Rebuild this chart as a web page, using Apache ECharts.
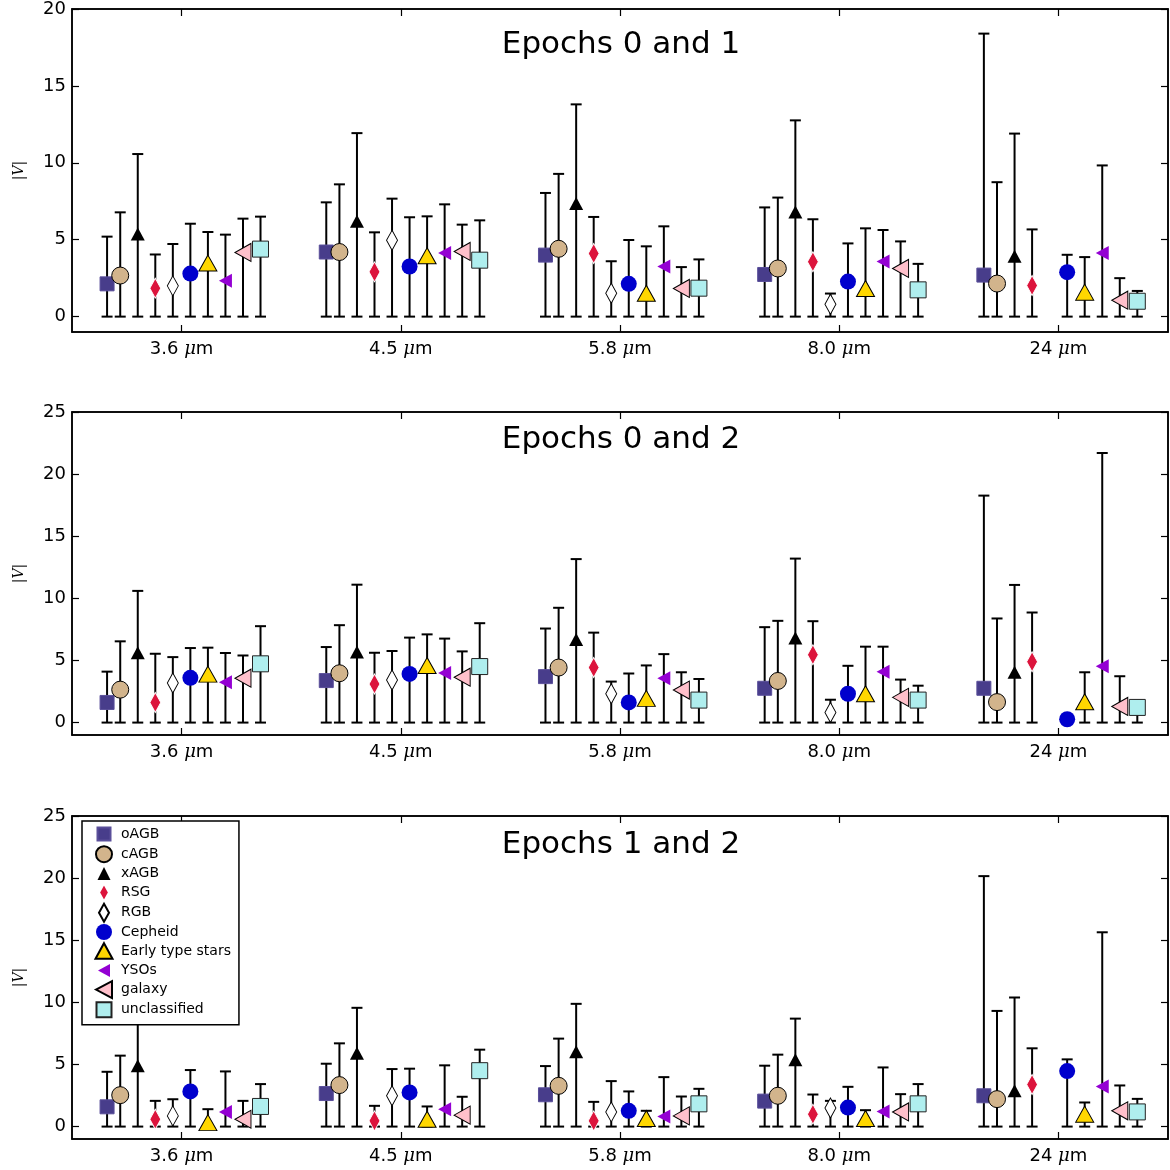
<!DOCTYPE html>
<html>
<head>
    <meta charset="utf-8">
    <script src="https://cdn.jsdelivr.net/npm/echarts@6/dist/echarts.min.js"></script>
</head>
<body style="margin:0;background:#fff;">
    <div id="main" style="width:1170px;height:1170px;"></div>
    <script type="text/javascript">
        // bands and classes
        var bands = ['3.6', '4.5', '5.8', '8.0', '24'];
        var classes = ['oAGB', 'cAGB', 'xAGB', 'RSG', 'RGB', 'Cepheid', 'Early type stars', 'YSOs', 'galaxy', 'unclassified'];
        var offsets = [-0.34, -0.28, -0.2, -0.12, -0.04, 0.04, 0.12, 0.2, 0.28, 0.36];
        var panelTitles = ['Epochs 0 and 1', 'Epochs 0 and 2', 'Epochs 1 and 2'];
        var yMax = [20, 25, 25];
        var yTicks = [[0, 5, 10, 15, 20], [0, 5, 10, 15, 20, 25], [0, 5, 10, 15, 20, 25]];

        // epochs 0 and 1: marker value and upper end of the bar, one row per class
        var e01Val = [
            [2.13, 4.2, 4.0, 2.74, 2.7],
            [2.67, 4.2, 4.41, 3.13, 2.15],
            [5.37, 6.2, 7.35, 6.8, 3.93],
            [1.85, 2.91, 4.1, 3.57, 2.02],
            [2.0, 4.96, 1.52, 0.8, null],
            [2.8, 3.26, 2.13, 2.28, 2.89],
            [3.48, 3.96, 1.52, 1.83, 1.59],
            [2.33, 4.13, 3.26, 3.59, 4.13],
            [4.17, 4.24, 1.83, 3.13, 1.07],
            [4.39, 3.67, 1.85, 1.74, 1.0]
        ];
        var e01Top = [
            [5.2, 7.43, 8.04, 7.1, 18.4],
            [6.78, 8.6, 9.28, 7.74, 8.74],
            [10.57, 11.93, 13.8, 12.76, 11.9],
            [4.04, 5.48, 6.48, 6.33, 5.67],
            [4.72, 7.67, 3.6, 1.5, null],
            [6.04, 6.46, 4.98, 4.76, 4.02],
            [5.5, 6.52, 4.57, 5.74, 3.87],
            [5.33, 7.3, 5.87, 5.63, 9.83],
            [6.37, 5.98, 3.22, 4.89, 2.5],
            [6.5, 6.26, 3.72, 3.43, 1.67]
        ];

        // epochs 0 and 2
        var e02Val = [
            [1.62, 3.38, 3.7, 2.76, 2.76],
            [2.65, 3.97, 4.43, 3.35, 1.65],
            [5.62, 5.68, 6.68, 6.81, 4.05],
            [1.62, 3.1, 4.43, 5.46, 4.89],
            [3.19, 3.43, 2.32, 0.81, null],
            [3.6, 3.92, 1.62, 2.32, 0.27],
            [3.9, 4.6, 1.95, 2.32, 1.68],
            [3.24, 4.0, 3.57, 4.1, 4.54],
            [3.57, 3.65, 2.62, 2.03, 1.3],
            [4.73, 4.51, 1.81, 1.81, 1.22]
        ];
        var e02Top = [
            [4.1, 6.08, 7.57, 7.68, 18.27],
            [6.54, 7.84, 9.24, 8.19, 8.38],
            [10.6, 11.1, 13.16, 13.2, 11.08],
            [5.54, 5.62, 7.24, 8.16, 8.86],
            [5.27, 5.76, 3.3, 1.84, null],
            [6.0, 6.84, 3.95, 4.57, 0.35],
            [6.03, 7.1, 4.6, 6.11, 4.05],
            [5.6, 6.76, 5.51, 6.11, 21.7],
            [5.4, 5.73, 4.05, 3.46, 3.73],
            [7.76, 8.0, 3.51, 2.97, 1.76]
        ];

        // epochs 1 and 2
        var e12Val = [
            [1.59, 2.66, 2.56, 2.05, 2.48],
            [2.53, 3.34, 3.28, 2.48, 2.21],
            [4.9, 5.9, 6.03, 5.38, 2.88],
            [0.59, 0.46, 0.46, 1.0, 3.39],
            [0.86, 2.48, 1.18, 1.5, null],
            [2.83, 2.75, 1.27, 1.53, 4.47],
            [0.32, 0.59, 0.65, 0.65, 1.0],
            [1.18, 1.4, 0.81, 1.21, 3.23],
            [0.59, 0.92, 0.86, 1.18, 1.27],
            [1.62, 4.5, 1.83, 1.83, 1.18]
        ];
        var e12Top = [
            [4.41, 5.06, 4.87, 4.9, 20.16],
            [5.71, 6.7, 7.08, 5.79, 9.31],
            [8.29, 9.56, 9.88, 8.69, 10.39],
            [2.07, 1.67, 1.99, 2.58, 6.3],
            [2.2, 4.63, 3.66, 2.07, null],
            [4.55, 4.66, 2.83, 3.2, 5.41],
            [1.4, 1.62, 1.27, 1.32, 1.94],
            [4.44, 4.93, 3.98, 4.76, 15.64],
            [2.07, 2.4, 2.42, 2.61, 3.31],
            [3.42, 6.19, 3.04, 3.42, 2.23]
        ];

        var panelVal = [e01Val, e02Val, e12Val];
        var panelTop = [e01Top, e02Top, e12Top];

        var leftTri = 'path://M0,10 L18,0 L18,20 Z';
        var diamond = 'path://M5,0 L10,10 L5,20 L0,10 Z';
        var markerStyle = [
            { symbol: 'rect', size: 14, color: '#483D8B', border: '#5a4f9a', bw: 1 },
            { symbol: 'circle', size: 17, color: '#D2B48C', border: '#000', bw: 1 },
            { symbol: 'triangle', size: [14, 13], color: '#000', border: '#000', bw: 0 },
            { symbol: diamond, size: [11, 20], color: '#DC143C', border: '#fff', bw: 1 },
            { symbol: diamond, size: [11, 20], color: '#fff', border: '#000', bw: 1 },
            { symbol: 'circle', size: 16, color: '#0000CD', border: '#0000CD', bw: 0 },
            { symbol: 'triangle', size: [18, 16], color: '#FFD700', border: '#000', bw: 1 },
            { symbol: leftTri, size: [13, 14], color: '#9400D3', border: '#9400D3', bw: 0 },
            { symbol: leftTri, size: [16, 18], color: '#FFC0CB', border: '#000', bw: 1 },
            { symbol: 'rect', size: 16, color: '#AFEEEE', border: '#222', bw: 1 }
        ];
        // legend icons drawn in an 18x18 box (the leading moves fix the box)
        var box = 'path://M0,0 M18,18 ';
        var legendIcons = [
            box + 'M2.5,2.5 L15.5,2.5 L15.5,15.5 L2.5,15.5 Z',
            box + 'M1,9 A8,8 0 1,1 17,9 A8,8 0 1,1 1,9 Z',
            box + 'M9,2.5 L15.5,15.5 L2.5,15.5 Z',
            box + 'M9,0 L14,9 L9,18 L4,9 Z',
            box + 'M9,0 L14,9 L9,18 L4,9 Z',
            box + 'M1,9 A8,8 0 1,1 17,9 A8,8 0 1,1 1,9 Z',
            box + 'M9,1 L17.5,16.5 L0.5,16.5 Z',
            box + 'M3,9 L15,2.5 L15,15.5 Z',
            box + 'M1,9 L17,0.5 L17,17.5 Z',
            box + 'M1.5,1.5 L16.5,1.5 L16.5,16.5 L1.5,16.5 Z'
        ];

        var gridTops = [9, 412, 816];
        var gridH = 323;
        var titleY = [45, 440, 845];
        var ticks = [0.5, 1.5, 2.5, 3.5, 4.5];
        var font = 'DejaVu Sans';

        var grids = [], xAxes = [], yAxes = [], series = [], graphics = [];

        for (var p = 0; p < 3; p++) {
            grids.push({
                left: 72, right: 2, top: gridTops[p], height: gridH,
                show: true, borderColor: '#000', borderWidth: 1.5, backgroundColor: 'transparent'
            });
        }
        // bottom x axes (0-2), top x axes (3-5)
        for (var k = 0; k < 2; k++) {
            for (var p = 0; p < 3; p++) {
                xAxes.push({
                    type: 'value', gridIndex: p, min: 0, max: 5,
                    position: k == 0 ? 'bottom' : 'top',
                    splitLine: { show: false },
                    axisLine: { show: true, onZero: false, lineStyle: { color: '#000', width: 1.5 } },
                    axisTick: { show: true, inside: true, length: 7, customValues: ticks, lineStyle: { color: '#000', width: 1.2 } },
                    axisLabel: {
                        show: k == 0, customValues: ticks, margin: 8,
                        formatter: function (v) {
                            var i = Math.round(v - 0.5);
                            return '{a|' + bands[i] + ' }{m|μ}{a|m}';
                        },
                        rich: {
                            a: { fontFamily: font, fontSize: 18, color: '#000' },
                            m: { fontFamily: 'DejaVu Serif', fontStyle: 'italic', fontSize: 18, color: '#000' }
                        }
                    }
                });
            }
        }
        // left y axes (0-2), right y axes (3-5)
        for (var k = 0; k < 2; k++) {
            for (var p = 0; p < 3; p++) {
                yAxes.push({
                    type: 'value', gridIndex: p, min: -1, max: yMax[p],
                    position: k == 0 ? 'left' : 'right',
                    name: k == 0 ? '|V|' : '',
                    nameLocation: 'middle', nameGap: 46, nameRotate: 90,
                    nameTextStyle: { fontFamily: 'DejaVu Serif', fontStyle: 'italic', fontSize: 14, color: '#000' },
                    splitLine: { show: false },
                    axisLine: { show: true, onZero: false, lineStyle: { color: '#000', width: 1.5 } },
                    axisTick: { show: true, inside: true, length: 7, customValues: yTicks[p], lineStyle: { color: '#000', width: 1.2 } },
                    axisLabel: { show: k == 0, customValues: yTicks[p], margin: 6, fontFamily: font, fontSize: 18, color: '#000' }
                });
            }
        }

        function errRender(params, api) {
            var x = api.value(0);
            var top = api.value(1);
            var p0 = api.coord([x, 0]);
            var p1 = api.coord([x, top]);
            var hw = 5.5;
            var st = { stroke: '#000', lineWidth: 2 };
            return {
                type: 'group',
                children: [
                    { type: 'line', shape: { x1: p0[0], y1: p0[1], x2: p1[0], y2: p1[1] }, style: st },
                    { type: 'line', shape: { x1: p0[0] - hw, y1: p0[1], x2: p0[0] + hw, y2: p0[1] }, style: st },
                    { type: 'line', shape: { x1: p1[0] - hw, y1: p1[1], x2: p1[0] + hw, y2: p1[1] }, style: st }
                ]
            };
        }

        for (var p = 0; p < 3; p++) {
            for (var c = 0; c < classes.length; c++) {
                var errData = [], ptData = [];
                for (var b = 0; b < bands.length; b++) {
                    var x = b + 0.5 + offsets[c];
                    if (panelTop[p][c][b] != null) errData.push([x, panelTop[p][c][b]]);
                    if (panelVal[p][c][b] != null) ptData.push([x, panelVal[p][c][b]]);
                }
                series.push({
                    type: 'custom', name: 'err' + p + '_' + c,
                    xAxisIndex: p, yAxisIndex: p, z: 1,
                    renderItem: errRender, data: errData, silent: true
                });
                var ms = markerStyle[c];
                series.push({
                    type: 'scatter', name: classes[c],
                    xAxisIndex: p, yAxisIndex: p, z: 3,
                    symbol: ms.symbol, symbolSize: ms.size,
                    itemStyle: { color: ms.color, borderColor: ms.border, borderWidth: ms.bw, opacity: 1 },
                    data: ptData
                });
            }
            graphics.push({
                type: 'text', x: 621, y: titleY[p],
                style: { text: panelTitles[p], font: '31px "DejaVu Sans"', fill: '#000', textAlign: 'center', textVerticalAlign: 'middle' }
            });
        }

        var legendData = classes.map(function (name, i) {
            return { name: name, icon: legendIcons[i] };
        });

        var myChart = echarts.init(document.getElementById('main'));
        var option = {
            animation: false,
            backgroundColor: '#fff',
            grid: grids,
            xAxis: xAxes,
            yAxis: yAxes,
            legend: {
                data: legendData,
                orient: 'vertical',
                left: 82, top: 821,
                padding: [3, 8, 5, 12],
                itemWidth: 18, itemHeight: 18, itemGap: 0.2,
                backgroundColor: '#fff',
                borderColor: '#000', borderWidth: 1.5, borderRadius: 0,
                textStyle: { fontFamily: font, fontSize: 14, lineHeight: 18, color: '#000', padding: [0, 0, 0, 3] }
            },
            graphic: graphics,
            series: series
        };
        myChart.setOption(option);
    </script>
</body>
</html>
